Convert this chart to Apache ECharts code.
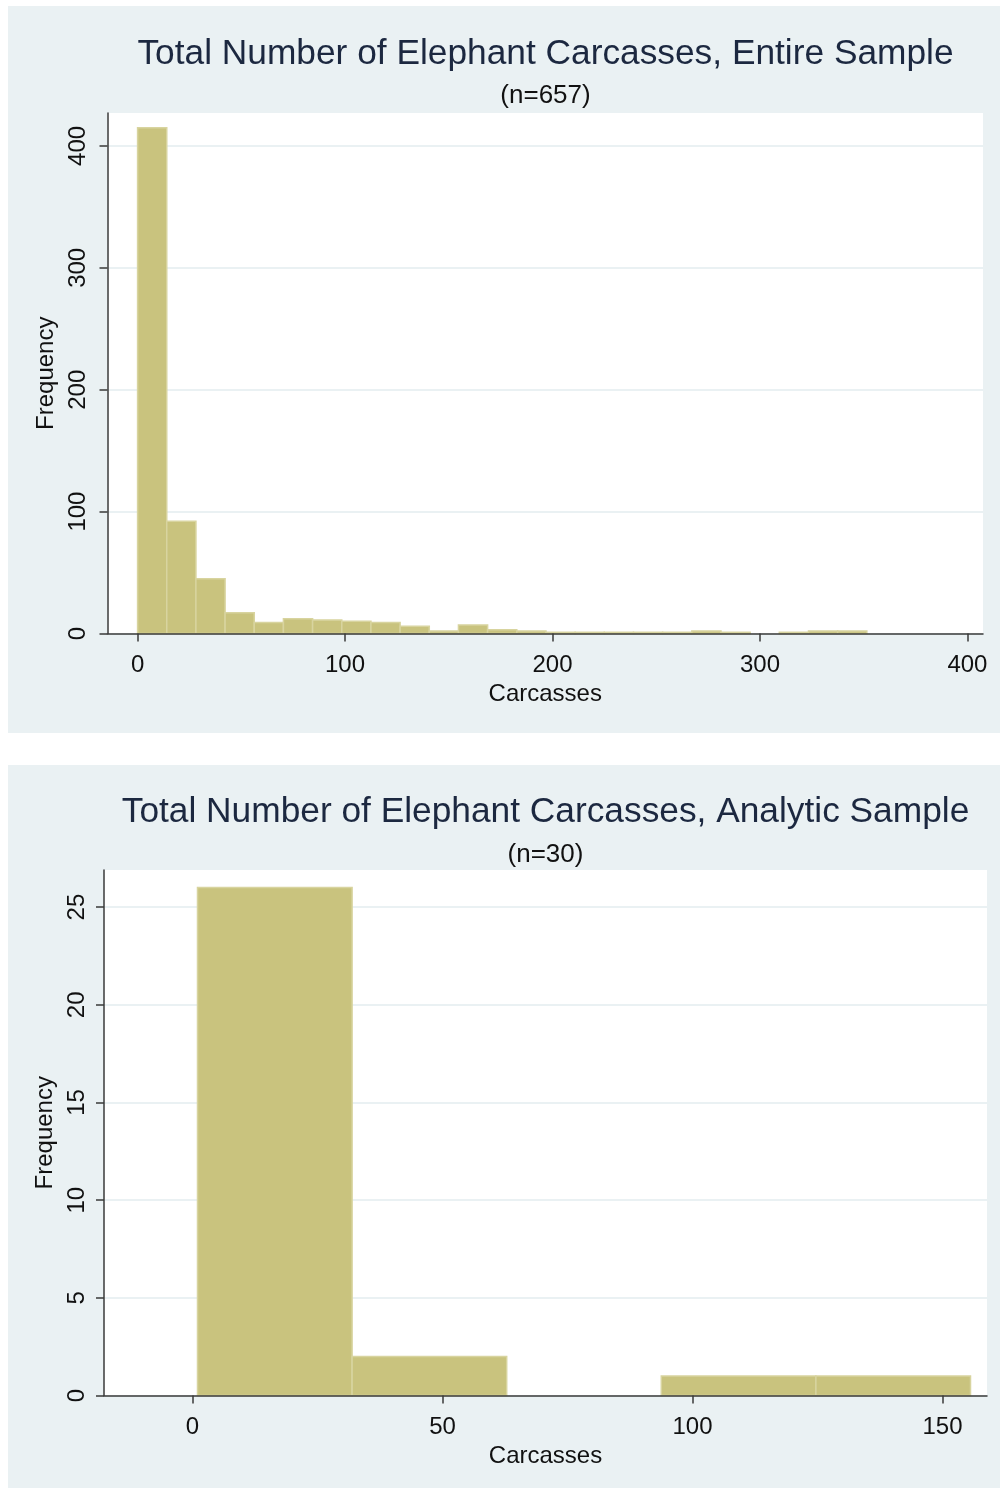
<!DOCTYPE html>
<html>
<head>
<meta charset="utf-8">
<script src="https://cdn.jsdelivr.net/npm/echarts@6/dist/echarts.min.js"></script>
<style>
  html, body { margin: 0; padding: 0; background: #ffffff; }
  body { width: 1000px; height: 1488px; position: relative; overflow: hidden; }
  .panel { position: absolute; background: #eaf1f3; }
  #p1 { left: 8px; top: 6px; width: 992px; height: 727px; }
  #p2 { left: 8px; top: 765px; width: 992px; height: 723px; }
</style>
</head>
<body>
<div id="p1" class="panel"></div>
<div id="p2" class="panel"></div>
<script>
// ---- Data: Entire sample (n=657) ----
const entireCounts = [415, 92, 45, 17, 9, 12, 11, 10, 9, 6, 2, 7, 3, 2, 1, 1, 1, 1, 1, 2, 1, 0, 1, 2, 2];
const entireBinStart = 0;
const entireBinWidth = 14.06;
const entireXTicks = [0, 100, 200, 300, 400];
const entireYTicks = [0, 100, 200, 300, 400];

// ---- Data: Analytic sample (n=30) ----
const analyticCounts = [26, 2, 0, 1, 1];
const analyticBinStart = 1;
const analyticBinWidth = 30.92;
const analyticXTicks = [0, 50, 100, 150];
const analyticYTicks = [0, 5, 10, 15, 20, 25];

const titles = ['Total Number of Elephant Carcasses, Entire Sample', 'Total Number of Elephant Carcasses, Analytic Sample'];
const subtitles = ['(n=657)', '(n=30)'];
const xName = 'Carcasses';
const yName = 'Frequency';

const FONT = '"Liberation Sans", Arial, sans-serif';
const AXIS_COLOR = '#3a3a3a';
const GRID_COLOR = '#e3ecef';
const BAR_FILL = '#c9c37e';
const BAR_STROKE = '#d8d49f';

function bins(counts, start, width) {
  return counts.map((c, i) => [start + i * width, start + (i + 1) * width, c]);
}

function renderBar(params, api) {
  const y = api.value(2);
  if (!y) return null;
  const p0 = api.coord([api.value(0), y]);
  const p1 = api.coord([api.value(1), 0]);
  return {
    type: 'rect',
    shape: { x: p0[0], y: p0[1], width: p1[0] - p0[0], height: p1[1] - p0[1] },
    style: { fill: BAR_FILL, stroke: BAR_STROKE, lineWidth: 1.5 }
  };
}

function makeOption(cfg) {
  const labelStyle = { fontSize: 24, color: '#111', fontFamily: FONT };
  return {
    animation: false,
    backgroundColor: 'transparent',
    graphic: [
      { type: 'text', x: cfg.titleX, y: cfg.titleY,
        style: { text: cfg.title, font: '35.3px ' + FONT, fill: '#1c2840', textAlign: 'center', textVerticalAlign: 'middle' } },
      { type: 'text', x: cfg.titleX, y: cfg.subY,
        style: { text: cfg.sub, font: '26px ' + FONT, fill: '#111', textAlign: 'center', textVerticalAlign: 'middle' } }
    ],
    grid: {
      left: cfg.gridLeft, top: cfg.gridTop, right: cfg.gridRight, height: cfg.gridHeight,
      show: true, backgroundColor: '#ffffff', borderWidth: 0, containLabel: false
    },
    xAxis: {
      type: 'value', min: cfg.xMin, max: cfg.xMax, z: 10,
      axisLine: { show: true, onZero: false, lineStyle: { color: AXIS_COLOR, width: 1.5 } },
      axisTick: { show: true, length: 8, customValues: cfg.xTicks, lineStyle: { color: AXIS_COLOR, width: 1.5 } },
      axisLabel: Object.assign({ customValues: cfg.xTicks, margin: 20 }, labelStyle),
      splitLine: { show: false },
      name: xName, nameLocation: 'middle', nameGap: cfg.xNameGap,
      nameTextStyle: labelStyle
    },
    yAxis: {
      type: 'value', min: 0, max: cfg.yMax, interval: cfg.yInterval,
      axisLine: { show: true, onZero: false, lineStyle: { color: AXIS_COLOR, width: 1.5 } },
      axisTick: { show: true, length: 8, customValues: cfg.yTicks, lineStyle: { color: AXIS_COLOR, width: 1.5 } },
      axisLabel: Object.assign({ customValues: cfg.yTicks, rotate: 90, margin: cfg.yLabelMargin }, labelStyle),
      splitLine: { show: true, lineStyle: { color: GRID_COLOR, width: 1.5 } },
      name: yName, nameLocation: 'middle', nameGap: cfg.yNameGap, nameRotate: 90,
      nameTextStyle: labelStyle
    },
    series: [{
      type: 'custom',
      renderItem: renderBar,
      encode: { x: [0, 1], y: 2 },
      data: cfg.data,
      clip: false
    }]
  };
}

const c1 = echarts.init(document.getElementById('p1'), null, { renderer: 'canvas', width: 992, height: 727 });
c1.setOption(makeOption({
  title: titles[0], sub: subtitles[0], titleX: 537.5, titleY: 48, subY: 90,
  gridLeft: 99.5, gridTop: 107, gridRight: 17, gridHeight: 520.5,
  xMin: -14.5, xMax: 407.5, xTicks: entireXTicks, xNameGap: 41,
  yMax: 427, yInterval: 100, yTicks: entireYTicks,
  yLabelMargin: 17, yNameGap: 38,
  data: bins(entireCounts, entireBinStart, entireBinWidth)
}));

const c2 = echarts.init(document.getElementById('p2'), null, { renderer: 'canvas', width: 992, height: 723 });
c2.setOption(makeOption({
  title: titles[1], sub: subtitles[1], titleX: 537.5, titleY: 47, subY: 90,
  gridLeft: 96, gridTop: 105, gridRight: 13, gridHeight: 525.5,
  xMin: -17.7, xMax: 158.9, xTicks: analyticXTicks, xNameGap: 40,
  yMax: 26.9, yInterval: 5, yTicks: analyticYTicks,
  yLabelMargin: 15, yNameGap: 35,
  data: bins(analyticCounts, analyticBinStart, analyticBinWidth)
}));
</script>
</body>
</html>
